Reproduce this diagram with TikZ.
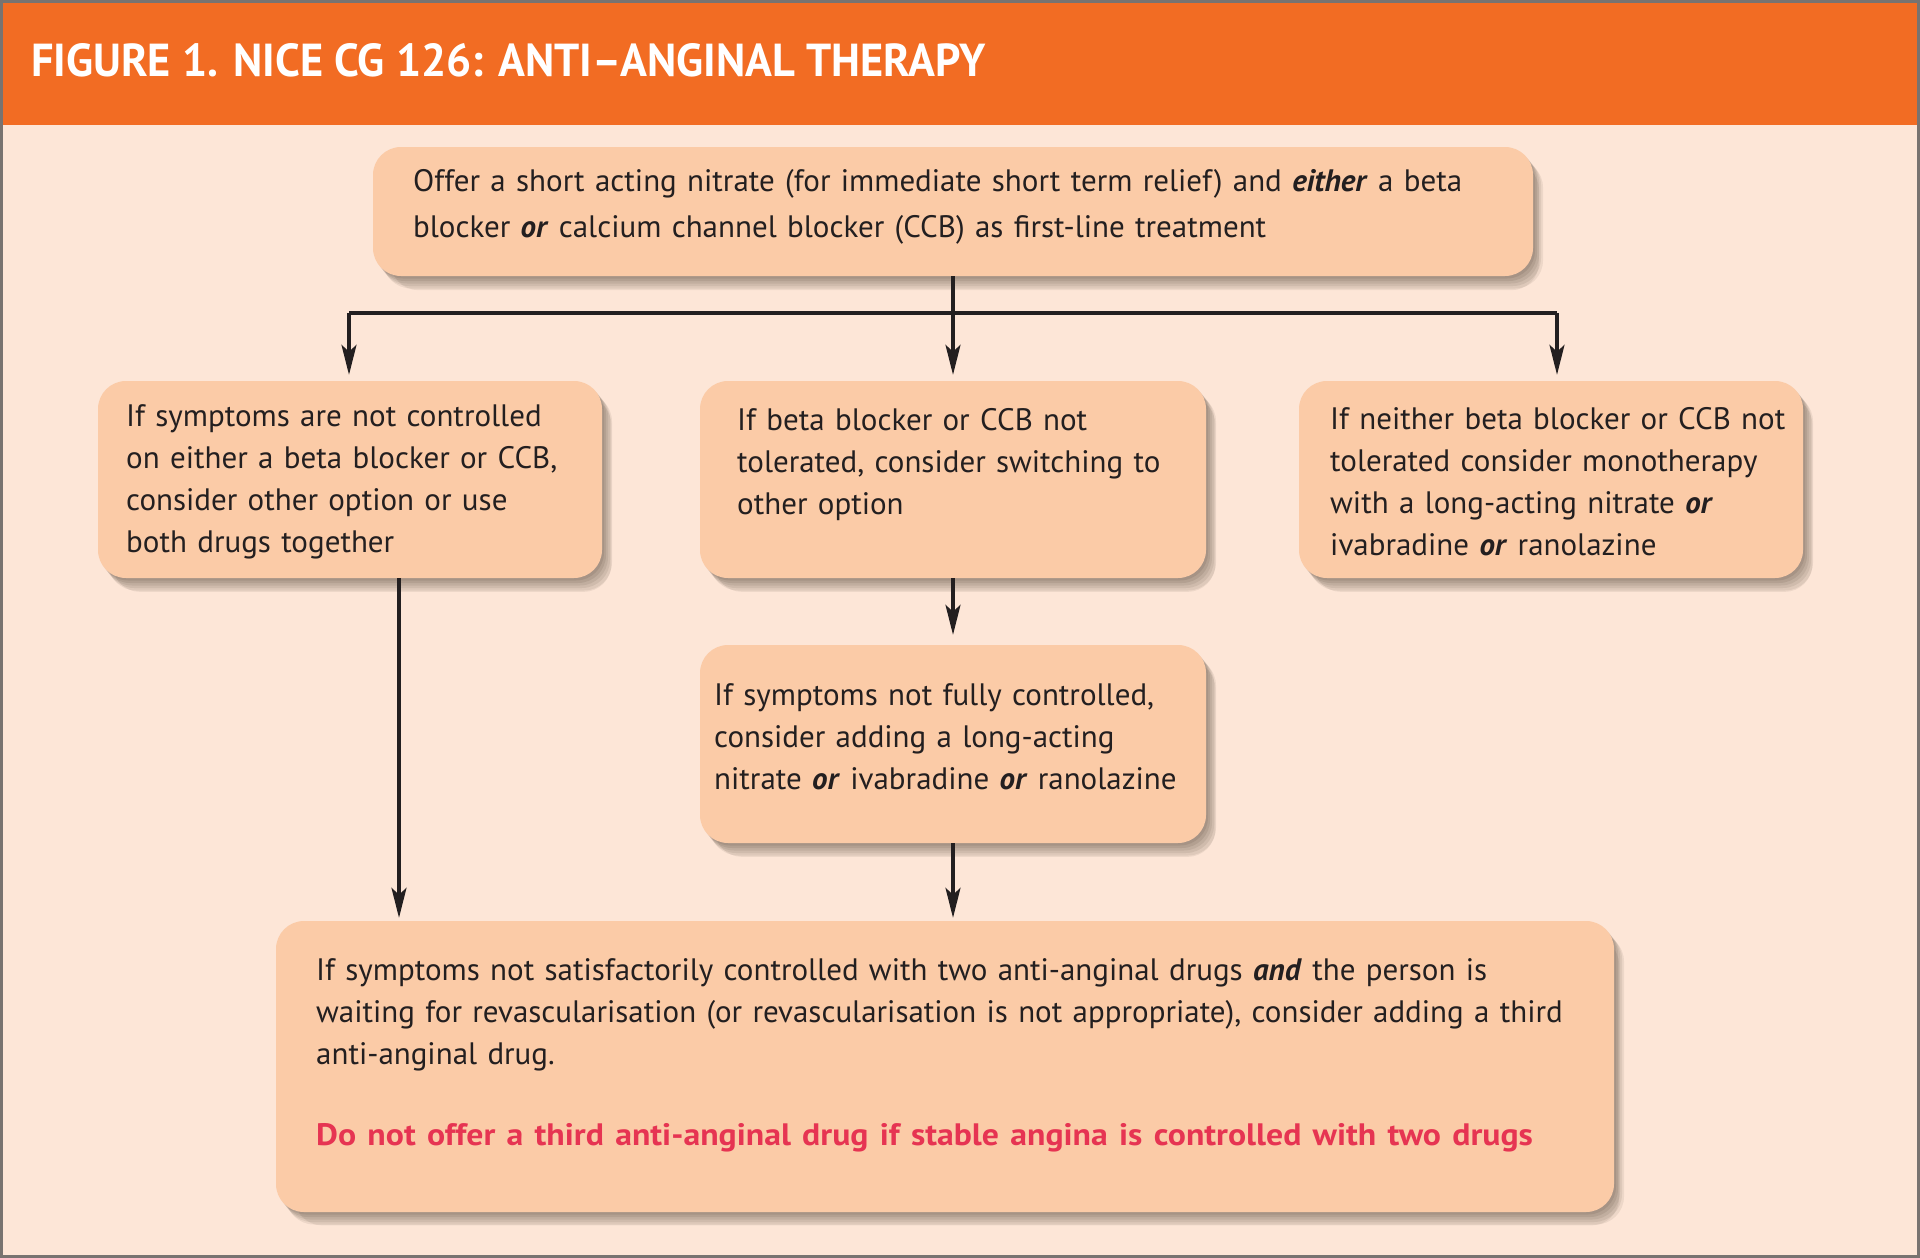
\documentclass[tikz,border=0pt]{standalone}
\usepackage{fontspec}
\usepackage{graphicx}
\setmainfont{PT Sans}
\usetikzlibrary{arrows.meta,shadows,calc}
\definecolor{titleor}{RGB}{242,108,35}
\definecolor{bgpeach}{RGB}{253,230,215}
\definecolor{boxpeach}{RGB}{251,203,167}
\definecolor{ink}{RGB}{35,31,32}
\definecolor{warnred}{RGB}{230,52,82}
\definecolor{framegray}{RGB}{120,115,112}
\newcommand{\bi}[1]{\textbf{\textit{#1}}}
\newcommand{\fst}{\rule{0pt}{30pt}}
\begin{document}
\begin{tikzpicture}[x=1pt,y=-1pt,
  box/.style={fill=boxpeach, draw=none, rounded corners=28pt,
    general shadow={fill=black!80!brown, opacity=.07, shadow xshift=12pt, shadow yshift=-15pt, shadow scale=0.99},
    general shadow={fill=black!80!brown, opacity=.07, shadow xshift=10pt, shadow yshift=-12.5pt},
    general shadow={fill=black!80!brown, opacity=.08, shadow xshift=8pt, shadow yshift=-10pt},
    general shadow={fill=black!80!brown, opacity=.08, shadow xshift=6pt, shadow yshift=-7.5pt},
    general shadow={fill=black!80!brown, opacity=.09, shadow xshift=4pt, shadow yshift=-5pt},
    general shadow={fill=black!80!brown, opacity=.09, shadow xshift=2pt, shadow yshift=-2.5pt}},
  txt/.style={anchor=north west, inner sep=0pt, align=left, text width=1300pt, text=ink,
    font=\fontsize{31}{42}\selectfont},
  conn/.style={line width=3.2pt, draw=ink},
  arr/.style={conn, -{Stealth[length=30pt,width=15pt,inset=7pt]}, shorten >=6pt}
]
\useasboundingbox (0,0) rectangle (1920,1258);
% background and title bar
\fill[bgpeach] (0,0) rectangle (1920,1258);
\fill[titleor] (0,0) rectangle (1920,125);
\node[anchor=base west, inner sep=0pt, text=white] (title) at (31,76)
  {\resizebox{955pt}{33pt}{\bfseries FIGURE 1. NICE CG 126: ANTI–ANGINAL THERAPY}};
\draw[framegray, line width=3pt] (1.5,1.5) rectangle (1918.5,1256.5);

% boxes
\node[box, minimum width=1160pt, minimum height=129pt] (top) at (953,211.5) {};
\node[box, minimum width=504pt, minimum height=197pt] (L) at (350,479.5) {};
\node[box, minimum width=506pt, minimum height=197pt] (M) at (953,479.5) {};
\node[box, minimum width=504pt, minimum height=197pt] (R) at (1551,479.5) {};
\node[box, minimum width=506pt, minimum height=198pt] (M2) at (953,744) {};
\node[box, minimum width=1338pt, minimum height=291pt] (B) at (945,1066.5) {};

% texts
\node[txt, font=\fontsize{31}{46}\selectfont] (topt) at (413,161)
  {\fst Offer a short acting nitrate (for immediate short term relief) and \bi{either} a beta\\
   blocker \bi{or} calcium channel blocker (CCB) as first-line treatment};
\node[txt] (Lt) at (126,396)
  {\fst If symptoms are not controlled\\ on either a beta blocker or CCB,\\ consider other option or use\\ both drugs together};
\node[txt] (Mt) at (737,400)
  {\fst If beta blocker or CCB not\\ tolerated, consider switching to\\ other option};
\node[txt] (Rt) at (1330,399)
  {\fst If neither beta blocker or CCB not\\ tolerated consider monotherapy\\ with a long-acting nitrate \bi{or}\\ ivabradine \bi{or} ranolazine};
\node[txt] (M2t) at (714,675)
  {\fst If symptoms not fully controlled,\\ consider adding a long-acting\\ nitrate \bi{or} ivabradine \bi{or} ranolazine};
\node[txt] (Bt) at (316,950)
  {\fst If symptoms not satisfactorily controlled with two anti-anginal drugs \bi{and} the person is\\
   waiting for revascularisation (or revascularisation is not appropriate), consider adding a third\\
   anti-anginal drug.};
\node[txt, text=warnred, font=\fontsize{31}{42}\selectfont\bfseries] (Bw) at (316,1115)
  {\fst\scalebox{1.09}[1]{Do not offer a third anti-anginal drug if stable angina is controlled with two drugs}};

% connectors
\coordinate (jM) at (953,313);
\coordinate (jL) at (349,313);
\coordinate (jR) at (1557,313);
\coordinate (xL) at (399,0);
\draw[conn] (top.south) -- (jM);
\draw[conn] (jL) -- (jR);
\draw[arr] (jL) -- (jL |- L.north);
\draw[arr] (jM) -- (jM |- M.north);
\draw[arr] (jR) -- (jR |- R.north);
\draw[arr, shorten >=10pt] (M.south) -- (M2.north);
\draw[arr, shorten >=3pt] (xL |- L.south) -- (xL |- B.north);
\draw[arr, shorten >=3pt] (M2.south) -- (M2.south |- B.north);
\end{tikzpicture}
\end{document}
